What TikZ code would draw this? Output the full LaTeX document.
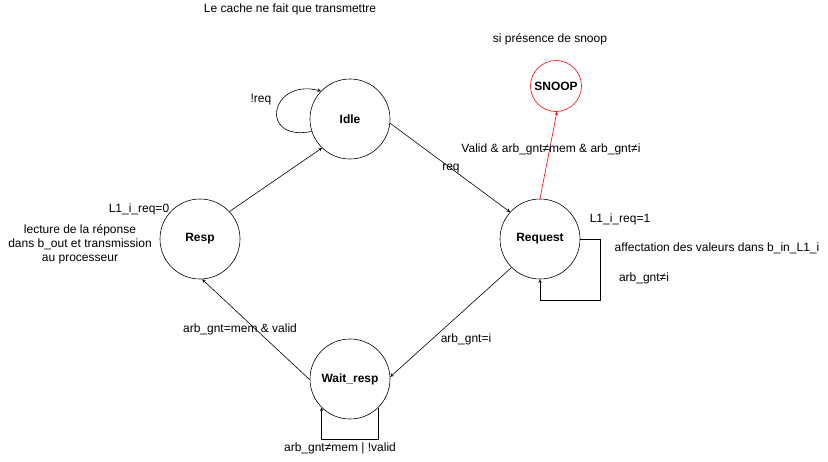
\documentclass[tikz,border=0pt]{standalone}
\usepackage{fontspec}
\setmainfont{Liberation Sans}
\usetikzlibrary{arrows}

\begin{document}
\begin{tikzpicture}[x=1pt,y=-1pt,line width=0.6pt,
    etat/.style={circle,draw,minimum size=80pt,inner sep=0pt,font=\fontsize{12}{15}\selectfont\bfseries},
    lbl/.style={inner sep=0pt,align=center},
    font=\fontsize{12}{15}\selectfont]
                      \useasboundingbox (0,0) rectangle (828,461);
                      \node[etat](idle)at(350,119){Idle};
                      \node[etat](request)at(540,239){Request};
                      \node[etat](resp)at(200,239){Resp};
                      \node[etat](wait)at(350,379){Wait\_resp};
                      \node[etat,draw=red,minimum size=51pt](snoop)at(556,86){SNOOP};
                      % transitions
                      \draw[-stealth] (idle.-6) -- (request.138);
                      \draw[-stealth] (resp.43) -- (idle.226);
                      \draw[-stealth] (request.225) -- (wait.3);
                      \draw[-stealth] (wait.181) -- (resp.-87);
                      \draw[-stealth,color=red] (request.north) -- (snoop.-88);
                      \draw[-stealth] (idle.198) .. controls (258,142) and (270,78) .. (idle.136);
                      \draw[-stealth] (request.east) -- ++(20,0) -- ++(0,61) -| (request.south);
                      \draw[-stealth] (wait.-45) -- ++(0,32) -| (wait.-135);
                      % textes
                      \node[lbl](titre)at(290,9){Le cache ne fait que transmettre};
                      \node[lbl](presence)at(550,39){si présence de snoop};
                      \node[lbl](nreq)at(261,100){!req};
                      \node[lbl](req)at(451,169){req};
                      \node[lbl](valid)at(551,149){Valid \& arb\_gnt≠mem \& arb\_gnt≠i};
                      \node[lbl](requn)at(620,219){L1\_i\_req=1};
                      \node[lbl](affect)at(717,248){affectation des valeurs dans b\_in\_L1\_i};
                      \node[lbl](gnti)at(644,278){arb\_gnt≠i};
                      \node[lbl](reqzero)at(139,209){L1\_i\_req=0};
                      \node[lbl,font=\fontsize{12}{14}\selectfont](lecture)at(80,244){lecture de la réponse\\dans b\_out et transmission\\au processeur};
                      \node[lbl](memvalid)at(240,329){arb\_gnt=mem \& valid};
                      \node[lbl](gnteq)at(466,339){arb\_gnt=i};
                      \node[lbl](notvalid)at(340,448){arb\_gnt≠mem | !valid};
                  \end{tikzpicture}
\end{document}
